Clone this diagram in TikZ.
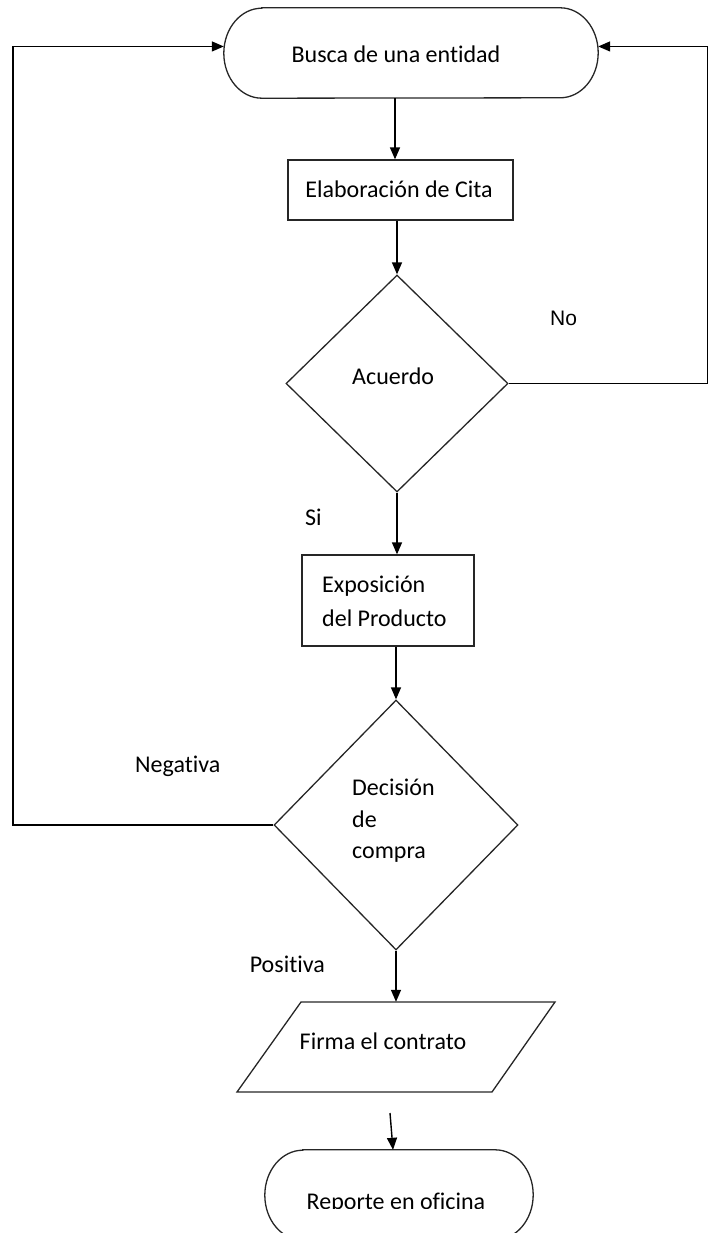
\documentclass[tikz,border=0pt]{standalone}
\usepackage{fontspec}
\setmainfont{Carlito}[Ligatures=NoCommon]
\newfontfamily\arialfont{Liberation Sans}
\usetikzlibrary{shapes.geometric,arrows.meta,calc}
\begin{document}
\begin{tikzpicture}[x=1pt,y=-1pt,
  line/.style={draw=black, line width=1.4pt},
  arr/.style={line, -{Triangle[length=12pt,width=10pt]}},
  shapeline/.style={draw=black!85, line width=1.3pt},
  box/.style={shapeline, rectangle, inner sep=0pt},
  decision/.style={shapeline, diamond, inner sep=0pt},
  frame/.style={rectangle, inner sep=0pt},
  txt/.style={anchor=base, inner sep=0pt, font=\fontsize{24}{28}\selectfont},
  ltxt/.style={txt, anchor=base west},
]
\useasboundingbox (0,0) rectangle (709,1233);
\clip (0,0) rectangle (709,1233);

% start terminator
\node[frame, minimum width=374pt, minimum height=90pt] (busca) at (411,53) {};
\draw[shapeline] ([xshift=38pt]busca.north west) -- ([xshift=-38pt]busca.north east)
  arc[start angle=90, end angle=-90, x radius=38pt, y radius=45pt]
  -- ([xshift=38pt]busca.south west)
  arc[start angle=270, end angle=90, x radius=38pt, y radius=45pt] -- cycle;
\node[txt] (buscatxt) at (396,63) {Busca de una entidad};

% appointment
\node[box, minimum width=225pt, minimum height=60pt] (cita) at (400.5,190) {};
\node[txt] (citatxt) at (399,198) {Elaboración de Cita};

% agreement decision
\node[decision, minimum width=222pt, minimum height=217pt] (acu) at (397,383.5) {};
\node[ltxt] (acutxt) at (352,384) {Acuerdo};

% product presentation
\node[box, minimum width=172pt, minimum height=91pt] (expo) at (388,600.5) {};
\node[ltxt] (expotxta) at (322,592) {Exposición};
\node[ltxt] (expotxtb) at (322,626) {del Producto};

% purchase decision
\node[decision, minimum width=244pt, minimum height=250pt] (dec) at (396,825) {};
\node[ltxt] (dectxta) at (352,795) {Decisión};
\node[ltxt] (dectxtb) at (352,827) {de};
\node[ltxt] (dectxtc) at (352,858) {compra};

% contract (parallelogram)
\node[frame, minimum width=254pt, minimum height=90pt] (firma) at (396,1047) {};
\draw[shapeline] (firma) ++(-95,-45) -- ++(254,0) -- ++(-63,90) -- ++(-255,0) -- cycle;
\node[txt] (firmatxt) at (383,1049) {Firma el contrato};

% end terminator
\node[frame, minimum width=268pt, minimum height=90pt] (reporte) at (399,1195) {};
\draw[shapeline] ([xshift=38pt]reporte.north west) -- ([xshift=-38pt]reporte.north east)
  arc[start angle=90, end angle=-90, x radius=38pt, y radius=45pt]
  -- ([xshift=38pt]reporte.south west)
  arc[start angle=270, end angle=90, x radius=38pt, y radius=45pt] -- cycle;
\begin{scope}
  \clip (0,0) rectangle (709,1208);
  \node[txt] (reptxt) at (396,1209) {Reporte en oficina};
\end{scope}

% branch labels
\node[anchor=base west, inner sep=0pt, font=\arialfont\fontsize{21}{25}\selectfont] (no) at (550,325) {No};
\node[ltxt] (si) at (305,525) {Si};
\node[ltxt] (neg) at (135,772) {Negativa};
\node[txt, anchor=base east] (pos) at (325,972) {Positiva};

% connectors
\coordinate (colA) at (395,0);
\coordinate (rc) at (707.5,383.5);
\coordinate (lc) at (13,825);
\coordinate (ftail) at (390,1113);

\draw[arr] (busca.south -| colA) -- (cita.north -| colA);
\draw[arr] (cita.south -| acu.north) -- (acu.north);
\draw[arr] (acu.south) -- (acu.south |- expo.north);
\draw[arr] (expo.south -| dec.north) -- (dec.north);
\draw[arr] (dec.south) -- (dec.south |- firma.north);
\draw[arr] (ftail) -- ([xshift=-6pt]reporte.north);
\draw[arr] (acu.east) -- (rc) |- (busca.2);
\draw[arr] (dec.west) -- (lc) |- (busca.178);
\end{tikzpicture}
\end{document}
